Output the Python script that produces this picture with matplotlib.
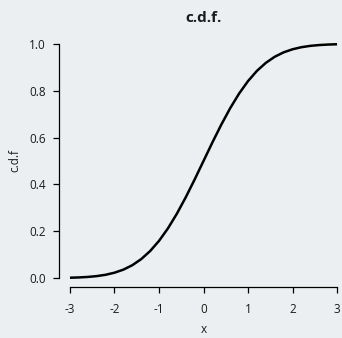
import matplotlib
matplotlib.use("Agg")
import matplotlib.pyplot as plt

x_vals = [-3.0, -2.8, -2.6, -2.4, -2.2, -2.0, -1.8, -1.6, -1.4, -1.2, -1.0, -0.8, -0.6, -0.4, -0.2,
          0.0, 0.2, 0.4, 0.6, 0.8, 1.0, 1.2, 1.4, 1.6, 1.8, 2.0, 2.2, 2.4, 2.6, 2.8, 3.0]
cdf_vals = [0.0013, 0.0026, 0.0047, 0.0082, 0.0139, 0.0228, 0.0359, 0.0548, 0.0808, 0.1151,
            0.1587, 0.2119, 0.2743, 0.3446, 0.4207, 0.5, 0.5793, 0.6554, 0.7257, 0.7881,
            0.8413, 0.8849, 0.9192, 0.9452, 0.9641, 0.9772, 0.9861, 0.9918, 0.9953, 0.9974, 0.9987]
x_ticks = [-3, -2, -1, 0, 1, 2, 3]
y_ticks = [0.0, 0.2, 0.4, 0.6, 0.8, 1.0]

bg = "#eceff1"
txt = "#1a1a1a"
plt.rcParams['font.family'] = ['Open Sans', 'DejaVu Sans']

fig = plt.figure(figsize=(3.42, 3.38), dpi=100, facecolor=bg)
ax = fig.add_axes([0.1734, 0.1497, 0.8433, 0.748])
ax.set_facecolor(bg)
ax.plot(x_vals, cdf_vals, color="black", lw=1.8, solid_capstyle="butt", solid_joinstyle="round")
ax.set_xlim(-3.24, 3.24)
ax.set_ylim(-0.04, 1.04)
for s in ["top", "right"]:
    ax.spines[s].set_visible(False)
ax.spines["left"].set_bounds(0, 1)
ax.spines["bottom"].set_bounds(-3, 3)
for s in ["left", "bottom"]:
    ax.spines[s].set_linewidth(0.9)
    ax.spines[s].set_color("black")
ax.set_xticks(x_ticks)
ax.set_xticklabels([str(t) for t in x_ticks])
ax.set_yticks(y_ticks)
ax.set_yticklabels([f"{t:.1f}" for t in y_ticks])
ax.tick_params(axis="both", length=4.5, width=0.9, color="black", labelsize=8.5, labelcolor=txt)
ax.tick_params(axis="x", pad=7)
ax.tick_params(axis="y", pad=5)
ax.set_xlabel("x", fontsize=8.5, color=txt, labelpad=5)
ax.set_ylabel("c.d.f", fontsize=8.5, color=txt, labelpad=6)
fig.text(0.595, 0.948, "c.d.f.", ha="center", va="center", fontsize=11, fontweight="bold", color=txt)
fig.savefig("out.png", dpi=100, facecolor=bg)
